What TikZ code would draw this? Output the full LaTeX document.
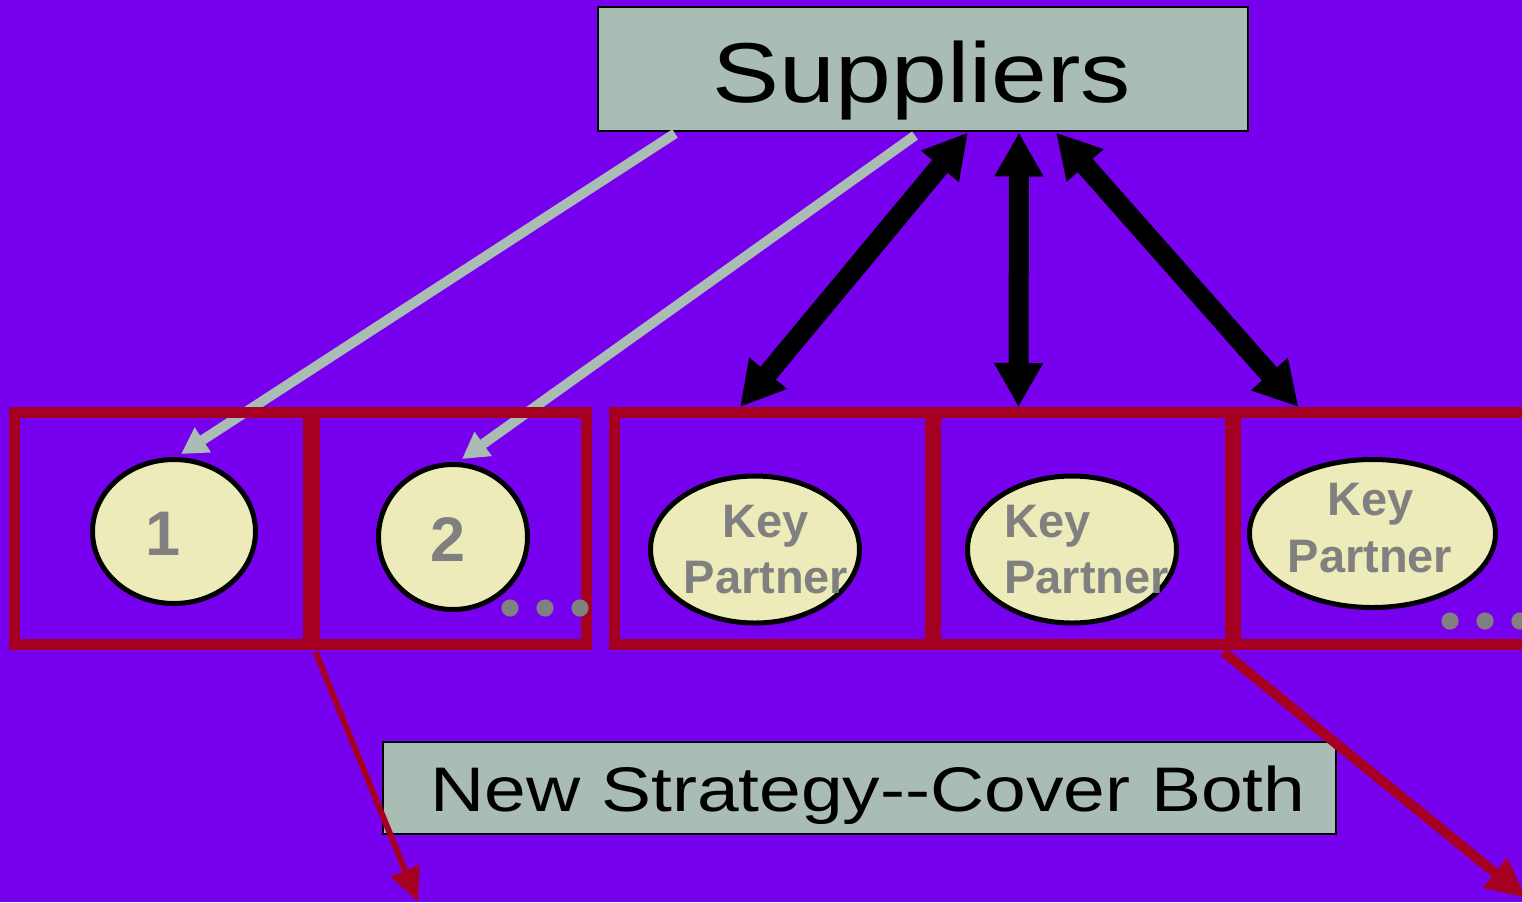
\documentclass[tikz,border=0pt]{standalone}
\usepackage{fontspec}
\setmainfont{Liberation Sans}
\usetikzlibrary{arrows.meta,shapes.geometric,calc}
\definecolor{bgpurple}{RGB}{119,0,238}
\definecolor{boxgray}{RGB}{169,189,181}
\definecolor{boxred}{RGB}{165,0,33}
\definecolor{cream}{RGB}{237,235,185}
\definecolor{txtgray}{RGB}{128,128,128}
\tikzset{
  graybox/.style={rectangle, draw=black, line width=1pt, fill=boxgray, inner sep=0pt},
  redbox/.style={rectangle, draw=boxred, line width=5.5pt, inner sep=0pt},
  oval/.style={ellipse, draw=black, line width=2.5pt, fill=cream, inner sep=0pt},
  bigtxt/.style={anchor=base, inner sep=0pt, text=black},
  kptxt/.style={inner sep=0pt, text=txtgray, font=\fontsize{23.5}{28}\selectfont\bfseries},
  numtxt/.style={anchor=base, inner sep=0pt, text=txtgray, font=\fontsize{31.5}{36}\selectfont\bfseries},
  grayarrow/.style={draw=boxgray, line width=5pt, -{Triangle[length=13pt,width=14pt]}},
  blackarrow/.style={draw=black, line width=10pt, {Triangle[length=22pt,width=23pt]}-{Triangle[length=22pt,width=23pt]}},
  redarrow/.style={draw=boxred, -{Triangle[length=17pt,width=15pt]}},
  dot/.style={fill=txtgray}
}
\begin{document}
\begin{tikzpicture}[x=0.5pt,y=-0.5pt]
\fill[bgpurple] (0,0) rectangle (1522,902);
\useasboundingbox (0,0) rectangle (1522,902);

% Suppliers
\node[graybox, minimum width=325pt, minimum height=62pt] (sup) at (923,68.5) {};
\node[bigtxt, font=\fontsize{42.5}{50}\selectfont] (suptxt) at (922,102) {\scalebox{1.18}[1]{Suppliers}};

\coordinate (g1s) at ($(sup.south west)+(78,2)$);
\coordinate (g2s) at ($(sup.south west)+(318,4)$);

% red boxes
\node[redbox, minimum width=146.75pt, minimum height=116pt] (b1) at (161.25,528.5) {};
\node[redbox, minimum width=136.25pt, minimum height=116pt] (b2) at (450.25,528.5) {};
\node[redbox, minimum width=157.75pt, minimum height=116pt] (b3) at (772.25,528.5) {};
\node[redbox, minimum width=147.5pt, minimum height=116pt] (b4) at (1082.5,528.5) {};
\node[redbox, minimum width=155pt, minimum height=116pt] (b5) at (1390,528.5) {};

% ellipses
\node[oval, minimum width=81.5pt, minimum height=72pt] (e1) at (174,531.5) {};
\node[oval, minimum width=74.5pt, minimum height=72.5pt] (e2) at (453,537) {};
\node[oval, minimum width=104.5pt, minimum height=73.5pt] (e3) at (755,549.5) {};
\node[oval, minimum width=104.5pt, minimum height=73.5pt] (e4) at (1072,549.5) {};
\node[oval, minimum width=123pt, minimum height=74pt] (e5) at (1372.5,533.5) {};

% gray arrows, then the red top border redrawn above them
\draw[grayarrow] (g1s) -- ($(e1.north)+(7,-3)$);
\draw[grayarrow] (g2s) -- ($(e2.north)+(9,-3)$);
\draw[draw=boxred, line width=5.5pt] ($(b1.north west)+(0,5.5)$) -- ($(b2.north east)+(0,5.5)$);

% ellipse texts
\node[numtxt] (t1) at (163,555) {1};
\node[numtxt] (t2) at (448,561) {2};
\node[kptxt, anchor=base] (k3) at (766,537) {Key};
\node[kptxt, anchor=base] (p3) at (766,593) {Partner};
\node[kptxt, anchor=base west] (k4) at (1004,537) {Key};
\node[kptxt, anchor=base west] (p4) at (1004,593) {Partner};
\node[kptxt, anchor=base] (k5) at (1371,515) {Key};
\node[kptxt, anchor=base] (p5) at (1370,572) {Partner};

% dots
\fill[dot] (510,608) circle (4.3pt) (545,608) circle (4.3pt) (580,608) circle (4.3pt);
\fill[dot] (1450,621) circle (4.3pt) (1485,621) circle (4.3pt) (1520,621) circle (4.3pt);

% black double arrows
\draw[blackarrow] ($(sup.south west)+(371,1)$) -- ($(b3.north west)+(131,0)$);
\draw[blackarrow] ($(sup.south west)+(422,1)$) -- ($(b4.north west)+(89,0)$);
\draw[blackarrow] ($(sup.south west)+(459,1)$) -- ($(b5.north west)+(69,0)$);

% New strategy box
\node[graybox, minimum width=476.5pt, minimum height=46pt] (ns) at (859.5,788) {};
\node[bigtxt, font=\fontsize{31.5}{36}\selectfont] (nstxt) at (868,811) {\scalebox{1.19}[1]{New Strategy{-}{-}Cover Both}};

% red arrows
\coordinate (r1e) at (418,902);
\coordinate (r2e) at (1526,898);
\draw[redarrow, line width=3pt] ($(b1.south east)+(2,2)$) -- (r1e);
\draw[redarrow, line width=5pt, -{Triangle[length=20pt,width=18pt]}] ($(b4.south east)+(-12,2)$) -- (r2e);
\end{tikzpicture}
\end{document}
